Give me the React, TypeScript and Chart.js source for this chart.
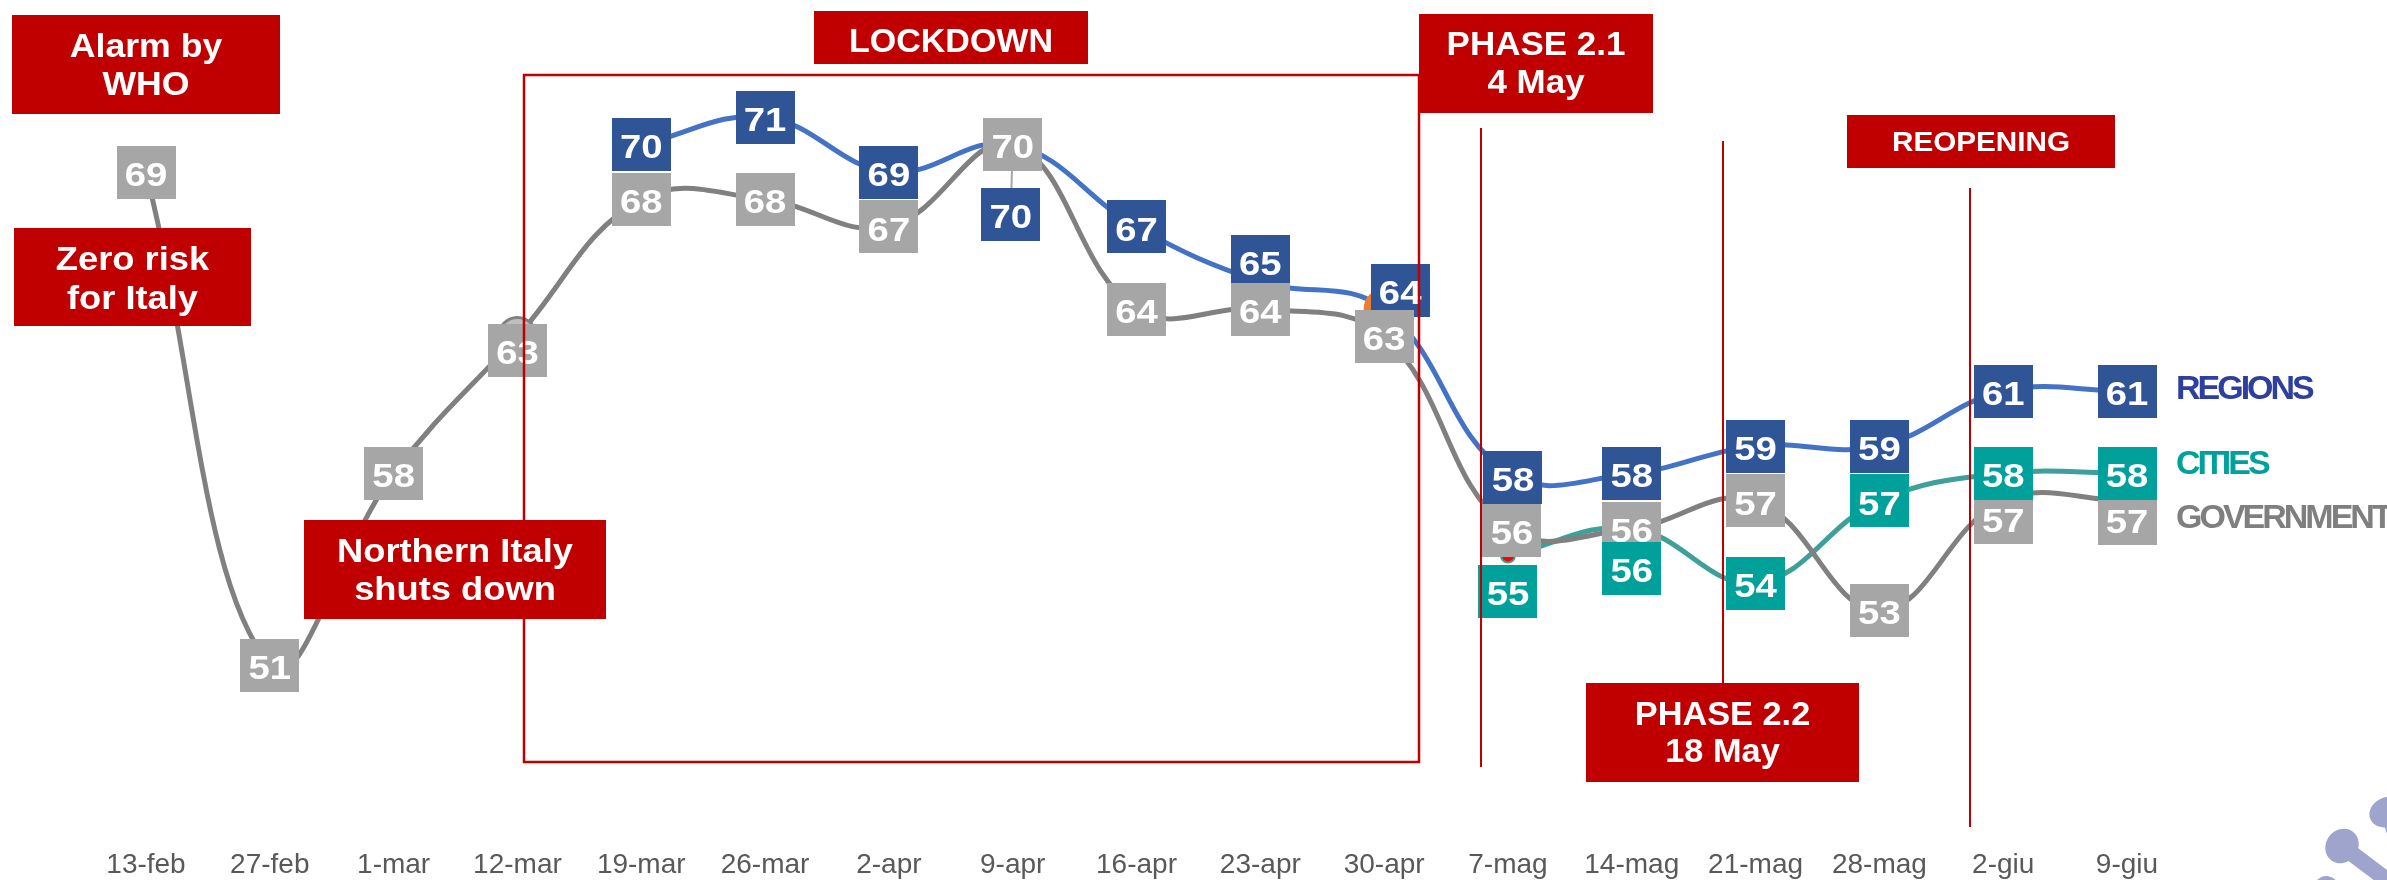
import React, { useEffect, useRef } from "react";
import { Chart, registerables } from "chart.js";

Chart.register(...registerables);

// ---------------- data ----------------
const categories = [
  "13-feb", "27-feb", "1-mar", "12-mar", "19-mar", "26-mar", "2-apr", "9-apr",
  "16-apr", "23-apr", "30-apr", "7-mag", "14-mag", "21-mag", "28-mag", "2-giu", "9-giu",
];
const regionsValues = [null, null, null, null, 70, 71, 69, 70, 67, 65, 64, 58, 58, 59, 59, 61, 61];
const governmentValues = [69, 51, 58, 63, 68, 68, 67, 70, 64, 64, 63, 56, 56, 57, 53, 57, 57];
const citiesValues = [null, null, null, null, null, null, null, null, null, null, null, 55, 56, 54, 57, 58, 58];
const seriesNames = ["REGIONS", "GOVERNMENT", "CITIES"];

// ---------------- styles / layout ----------------
const W = 2387;
const H = 880;
const RED = "#C00000";
const BOX_W = 59;
const BOX_H = 53;
const seriesStyle = [
  { key: "regions", line: "#4472C4", box: "#2F5597", legend: "#2E3F9E", legendY: 387 },
  { key: "government", line: "#808080", box: "#A6A6A6", legend: "#7F7F7F", legendY: 516 },
  { key: "cities", line: "#3F9F9B", box: "#00A19A", legend: "#00A19A", legendY: 462 },
];

type Shift = { dx: number; dy: number; leader?: boolean };
const labelShifts: Record<string, Record<number, Shift>> = {
  regions: { 7: { dx: -2, dy: 70, leader: true }, 9: { dx: 0, dy: -20 }, 10: { dx: 16, dy: -19 }, 11: { dx: 5, dy: 4 } },
  government: { 3: { dx: 0, dy: 14 }, 11: { dx: 4, dy: 2 }, 15: { dx: 0, dy: 17 }, 16: { dx: 0, dy: 18 } },
  cities: { 11: { dx: 0, dy: 36 }, 12: { dx: 0, dy: 40 } },
};

type Note = { x: number; y: number; w: number; h: number; lines: string[]; cy: number[]; size: number; hs: number };
const notes: Note[] = [
  { x: 12, y: 15, w: 268, h: 99, lines: ["Alarm by", "WHO"], cy: [45, 83.5], size: 33, hs: 1.08 },
  { x: 14, y: 228, w: 237, h: 98, lines: ["Zero risk", "for Italy"], cy: [258, 297], size: 33, hs: 1.1 },
  { x: 304, y: 520, w: 302, h: 99, lines: ["Northern Italy", "shuts down"], cy: [550, 588], size: 33, hs: 1.1 },
  { x: 814, y: 11, w: 274, h: 53, lines: ["LOCKDOWN"], cy: [39.5], size: 34, hs: 1.0 },
  { x: 1419, y: 14, w: 234, h: 99, lines: ["PHASE 2.1", "4 May"], cy: [43.5, 81.5], size: 33, hs: 1.06 },
  { x: 1847, y: 115, w: 268, h: 53, lines: ["REOPENING"], cy: [141], size: 28, hs: 1.06 },
  { x: 1586, y: 683, w: 273, h: 99, lines: ["PHASE 2.2", "18 May"], cy: [713, 750], size: 33, hs: 1.04 },
];

const FONT = '"Liberation Sans", Arial, sans-serif';

function drawText(
  ctx: CanvasRenderingContext2D, text: string, cx: number, capCenterY: number,
  size: number, color: string, hs = 1
) {
  ctx.save();
  ctx.font = `bold ${size}px ${FONT}`;
  ctx.fillStyle = color;
  ctx.textAlign = "center";
  ctx.textBaseline = "alphabetic";
  ctx.translate(cx, capCenterY + (size * 0.716) / 2);
  ctx.scale(hs, 1);
  ctx.fillText(text, 0, 0);
  ctx.restore();
}

function drawSpaced(ctx: CanvasRenderingContext2D, text: string, x: number, capCenterY: number, size: number, color: string, spacing: number) {
  ctx.save();
  ctx.font = `bold ${size}px ${FONT}`;
  ctx.fillStyle = color;
  ctx.textAlign = "left";
  ctx.textBaseline = "alphabetic";
  let cx = x;
  const by = capCenterY + (size * 0.716) / 2;
  for (const ch of text) {
    ctx.fillText(ch, cx, by);
    cx += ctx.measureText(ch).width + spacing;
  }
  ctx.restore();
}

const boxLabelPlugin = {
  id: "boxLabels",
  afterDatasetsDraw(chart: any) {
    const ctx: CanvasRenderingContext2D = chart.ctx;
    ctx.save();
    // leader lines
    chart.data.datasets.forEach((ds: any, di: number) => {
      const meta = chart.getDatasetMeta(di);
      const shifts = labelShifts[seriesStyle[di].key] || {};
      ds.data.forEach((v: number | null, i: number) => {
        if (v == null) return;
        const s = shifts[i];
        if (!s || !s.leader) return;
        const pt = meta.data[i];
        ctx.strokeStyle = "#A6A6A6";
        ctx.lineWidth = 2;
        ctx.beginPath();
        ctx.moveTo(pt.x, pt.y);
        ctx.lineTo(pt.x + s.dx, pt.y + s.dy);
        ctx.stroke();
      });
    });
    // boxes
    chart.data.datasets.forEach((ds: any, di: number) => {
      const meta = chart.getDatasetMeta(di);
      const st = seriesStyle[di];
      const shifts = labelShifts[st.key] || {};
      ds.data.forEach((v: number | null, i: number) => {
        if (v == null) return;
        const pt = meta.data[i];
        const s = shifts[i] || { dx: 0, dy: 0 };
        const cx = pt.x + s.dx;
        const cy = pt.y + s.dy;
        ctx.fillStyle = st.box;
        ctx.fillRect(Math.round(cx - BOX_W / 2), Math.round(cy - BOX_H / 2), BOX_W, BOX_H);
        drawText(ctx, String(v), cx, cy + 2, 33, "#FFFFFF", 1.16);
      });
      // series name at the right end
      const last = meta.data[ds.data.length - 1];
      drawSpaced(ctx, seriesNames[di], last.x + 49, st.legendY, 34, st.legend, -3);
    });
    ctx.restore();
  },
};

const annotationPlugin = {
  id: "notes",
  afterDraw(chart: any) {
    const ctx: CanvasRenderingContext2D = chart.ctx;
    ctx.save();
    ctx.strokeStyle = RED;
    ctx.lineWidth = 2.5;
    ctx.strokeRect(524, 75, 895, 687);
    ctx.lineWidth = 2;
    const vlines = [
      [1481, 128, 767],
      [1723, 141, 683],
      [1970, 188, 827],
    ];
    for (const [x, y1, y2] of vlines) {
      ctx.beginPath();
      ctx.moveTo(x, y1);
      ctx.lineTo(x, y2);
      ctx.stroke();
    }
    for (const n of notes) {
      ctx.fillStyle = RED;
      ctx.fillRect(n.x, n.y, n.w, n.h);
      n.lines.forEach((t, k) => drawText(ctx, t, n.x + n.w / 2, n.cy[k], n.size, "#FFFFFF", n.hs));
    }
    // partial logo at the bottom right corner
    ctx.fillStyle = "#9EA4CB";
    ctx.strokeStyle = "#9EA4CB";
    ctx.lineCap = "round";
    ctx.lineWidth = 16;
    ctx.beginPath();
    ctx.arc(2432, 918, 52, 0, Math.PI * 2);
    ctx.fill();
    const spikes = [
      [2342, 846, 18, 16],
      [2388, 812, 19, 15],
      [2326, 892, 16, 14],
    ];
    for (const [sx, sy, rx, ry] of spikes) {
      ctx.beginPath();
      ctx.moveTo(2420, 905);
      ctx.lineTo(sx, sy);
      ctx.stroke();
      const ang = Math.atan2(sy - 905, sx - 2420);
      ctx.beginPath();
      ctx.ellipse(sx, sy, rx, ry, ang + Math.PI / 2, 0, Math.PI * 2);
      ctx.fill();
    }
    ctx.restore();
  },
};

export default function App() {
  const ref = useRef<HTMLCanvasElement | null>(null);
  useEffect(() => {
    document.body.style.margin = "0";
    document.body.style.overflow = "hidden";
    const canvas = ref.current;
    if (!canvas) return;
    const pr = (n: number, idx: number, r: number) => categories.map((_, i) => (i === idx ? r : n));
    const chart = new Chart(canvas, {
      type: "line",
      data: {
        labels: categories,
        datasets: [
          {
            label: "REGIONS",
            data: regionsValues,
            borderColor: seriesStyle[0].line,
            borderWidth: 5,
            tension: 0.4,
            pointRadius: pr(0, 10, 18),
            pointBackgroundColor: "#ED7D31",
            pointBorderColor: "#ED7D31",
          },
          {
            label: "GOVERNMENT",
            data: governmentValues,
            borderColor: seriesStyle[1].line,
            borderWidth: 5,
            tension: 0.4,
            pointRadius: pr(0, 3, 19),
            pointBackgroundColor: "#BFBFBF",
            pointBorderColor: "#808080",
            pointBorderWidth: 3,
          },
          {
            label: "CITIES",
            data: citiesValues,
            borderColor: seriesStyle[2].line,
            borderWidth: 5,
            tension: 0.4,
            pointRadius: pr(0, 11, 7),
            pointBackgroundColor: "#FF0000",
            pointBorderColor: "#3F9F9B",
            pointBorderWidth: 2,
          },
        ],
      },
      options: {
        responsive: false,
        animation: false,
        layout: { padding: { left: 146, right: 260, top: 0, bottom: 0 } },
        plugins: { legend: { display: false }, tooltip: { enabled: false } },
        scales: {
          x: {
            type: "category",
            offset: false,
            grid: { display: false, drawTicks: false },
            border: { display: false },
            ticks: {
              color: "#595959",
              font: { family: FONT, size: 28 },
              padding: -2,
              maxRotation: 0,
              autoSkip: false,
            },
          },
          y: { display: false, min: 44.24, max: 75.28 },
        },
      },
      plugins: [boxLabelPlugin, annotationPlugin],
    } as any);
    return () => chart.destroy();
  }, []);
  return <canvas ref={ref} width={W} height={H} style={{ display: "block", width: W, height: H }} />;
}
